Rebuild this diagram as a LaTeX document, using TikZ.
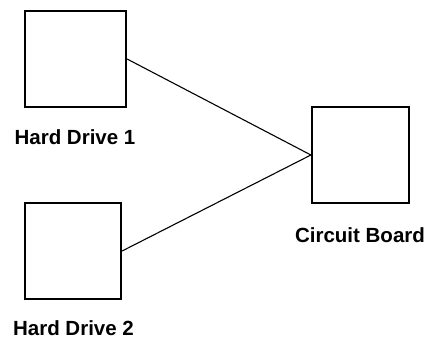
\documentclass[tikz,border=0pt]{standalone}
\usepackage{fontspec}
\setmainfont{Liberation Sans}
\usepackage{tikz}
\usetikzlibrary{positioning}

\begin{document}
\begin{tikzpicture}[x=1pt, y=-1pt,
    every node/.style={font=\fontsize{20.5}{24}\selectfont\bfseries},
    unit/.style={draw, line width=2.2pt, inner sep=0pt, minimum width=96pt, minimum height=96pt},
    tag/.style={inner sep=0pt},
    wire/.style={line width=1.1pt}]
  \useasboundingbox (0,0) rectangle (429,339);
  \node[unit, minimum width=101pt] (hd1) at (75.5,59)  {};
  \node[unit]                      (hd2) at (73,251)   {};
  \node[unit, minimum width=97pt]  (cb)  at (360.5,155) {};
  \node[tag] (hd1lbl) at (75,137)  {Hard Drive 1};
  \node[tag] (hd2lbl) at (73.5,328) {Hard Drive 2};
  \node[tag] (cblbl)  at (360,235) {Circuit Board};
  \draw[wire] (hd1.east)--(cb.west);
  \draw[wire] (hd2.east)--(cb.west);
\end{tikzpicture}
\end{document}
